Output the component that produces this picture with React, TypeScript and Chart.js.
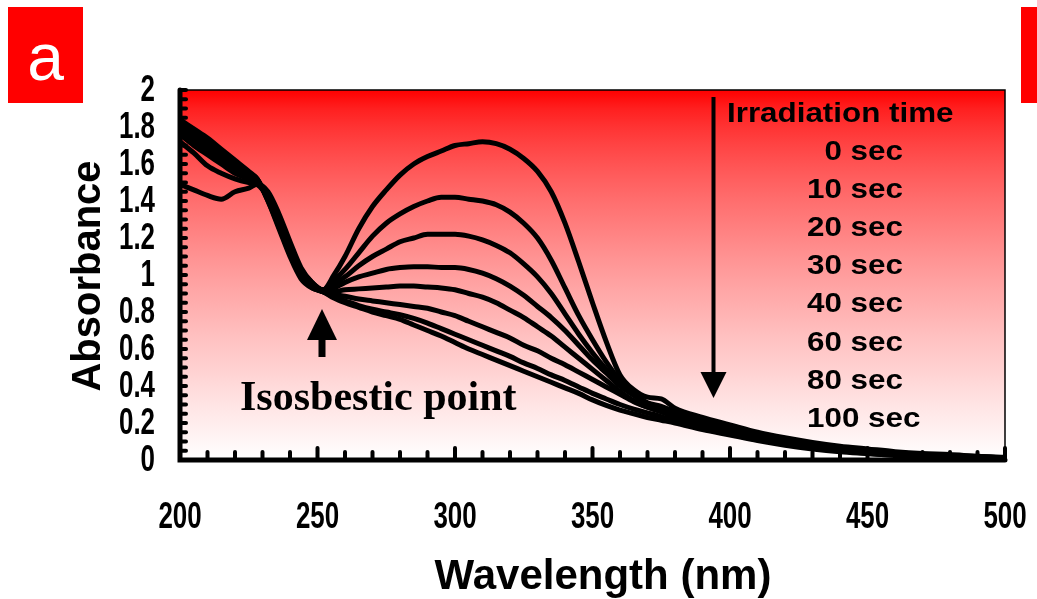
import React, { useEffect, useRef } from "react";
import { Chart, registerables } from "chart.js";

Chart.register(...registerables);

// ---------- data ----------
const wavelengths = [
  200, 205, 210, 215, 220, 225, 228, 232, 236, 240, 244, 248, 252,
  256, 260, 265, 270, 275, 280, 285, 290, 295, 300, 305, 310, 315, 320, 325, 330, 335, 340, 345, 350, 355, 360, 365, 370, 375, 380,
  390, 400, 410, 420, 430, 440, 450, 460, 470, 480, 490, 500,
];

const abs0s = [
  1.49, 1.46, 1.43, 1.41, 1.45, 1.47, 1.49, 1.45, 1.33, 1.18, 1.04, 0.96, 0.92,
  1.0, 1.1, 1.25, 1.37, 1.46, 1.54, 1.6, 1.64, 1.67, 1.7, 1.71, 1.72, 1.71, 1.68, 1.63, 1.56, 1.45, 1.28, 1.07, 0.85, 0.64, 0.46, 0.38, 0.34, 0.33, 0.28,
  0.23, 0.19, 0.15, 0.12, 0.095, 0.075, 0.06, 0.045, 0.035, 0.03, 0.02, 0.015,
];
const abs10s = [
  1.72, 1.66, 1.59, 1.55, 1.52, 1.5, 1.49, 1.42, 1.3, 1.15, 1.03, 0.96, 0.92,
  0.97, 1.03, 1.12, 1.21, 1.28, 1.33, 1.37, 1.4, 1.42, 1.42, 1.41, 1.4, 1.38, 1.34, 1.28, 1.2, 1.08, 0.93, 0.78, 0.65, 0.53, 0.43, 0.36, 0.31, 0.29, 0.26,
  0.21, 0.17, 0.135, 0.105, 0.085, 0.065, 0.05, 0.04, 0.03, 0.025, 0.02, 0.01,
];
const abs20s = [
  1.76, 1.7, 1.65, 1.6, 1.55, 1.52, 1.5, 1.42, 1.29, 1.14, 1.02, 0.95, 0.92,
  0.95, 0.99, 1.05, 1.1, 1.14, 1.18, 1.2, 1.22, 1.22, 1.22, 1.21, 1.19, 1.16, 1.12, 1.06, 0.99, 0.9, 0.79, 0.68, 0.58, 0.49, 0.41, 0.35, 0.3, 0.28, 0.25,
  0.2, 0.165, 0.13, 0.1, 0.08, 0.06, 0.05, 0.04, 0.03, 0.02, 0.015, 0.01,
];
const abs30s = [
  1.78, 1.72, 1.67, 1.62, 1.57, 1.53, 1.51, 1.42, 1.29, 1.14, 1.02, 0.95, 0.92,
  0.93, 0.96, 0.99, 1.01, 1.03, 1.04, 1.045, 1.045, 1.04, 1.04, 1.03, 1.01, 0.98, 0.94, 0.89, 0.83, 0.77, 0.7, 0.62, 0.54, 0.47, 0.4, 0.35, 0.3, 0.275, 0.24,
  0.195, 0.16, 0.125, 0.1, 0.075, 0.06, 0.045, 0.035, 0.025, 0.02, 0.015, 0.01,
];
const abs40s = [
  1.8, 1.74, 1.69, 1.64, 1.59, 1.54, 1.51, 1.41, 1.28, 1.13, 1.01, 0.94, 0.91,
  0.91, 0.92, 0.925, 0.93, 0.935, 0.94, 0.94, 0.935, 0.93, 0.92, 0.9, 0.88, 0.85, 0.81, 0.77, 0.72, 0.67, 0.61, 0.55, 0.49, 0.43, 0.37, 0.32, 0.285, 0.265, 0.235,
  0.19, 0.155, 0.12, 0.095, 0.07, 0.055, 0.04, 0.03, 0.025, 0.02, 0.015, 0.01,
];
const abs60s = [
  1.82, 1.76, 1.71, 1.66, 1.6, 1.55, 1.52, 1.41, 1.27, 1.12, 1.0, 0.94, 0.91,
  0.895, 0.885, 0.87, 0.86, 0.85, 0.84, 0.83, 0.82, 0.8, 0.78, 0.75, 0.72, 0.69, 0.66, 0.62, 0.59, 0.55, 0.515, 0.475, 0.435, 0.395, 0.355, 0.315, 0.285, 0.26, 0.23,
  0.18, 0.145, 0.115, 0.09, 0.065, 0.05, 0.04, 0.03, 0.02, 0.015, 0.01, 0.01,
];
const abs80s = [
  1.83, 1.78, 1.73, 1.67, 1.61, 1.55, 1.52, 1.4, 1.26, 1.11, 0.99, 0.93, 0.91,
  0.88, 0.86, 0.835, 0.815, 0.8, 0.785, 0.765, 0.74, 0.71, 0.68, 0.65, 0.62, 0.59, 0.56, 0.525, 0.495, 0.46, 0.43, 0.395, 0.36, 0.33, 0.3, 0.275, 0.255, 0.235, 0.21,
  0.17, 0.14, 0.11, 0.085, 0.065, 0.05, 0.035, 0.025, 0.02, 0.015, 0.01, 0.005,
];
const abs100s = [
  1.84, 1.79, 1.74, 1.68, 1.62, 1.56, 1.52, 1.4, 1.25, 1.1, 0.98, 0.93, 0.91,
  0.875, 0.85, 0.825, 0.8, 0.78, 0.76, 0.73, 0.7, 0.67, 0.635, 0.6, 0.57, 0.54, 0.51, 0.48, 0.45, 0.42, 0.39, 0.36, 0.325, 0.295, 0.27, 0.25, 0.23, 0.215, 0.2,
  0.165, 0.135, 0.105, 0.08, 0.06, 0.045, 0.035, 0.025, 0.015, 0.01, 0.01, 0.005,
];

const seriesLabels = ["0 sec", "10 sec", "20 sec", "30 sec", "40 sec", "60 sec", "80 sec", "100 sec"];
const seriesValues = [abs0s, abs10s, abs20s, abs30s, abs40s, abs60s, abs80s, abs100s];

const xTickValues = [200, 250, 300, 350, 400, 450, 500];
const xTickLabels = ["200", "250", "300", "350", "400", "450", "500"];
const yTickValues = [0, 0.2, 0.4, 0.6, 0.8, 1, 1.2, 1.4, 1.6, 1.8, 2];
const yTickLabels = ["0", "0.2", "0.4", "0.6", "0.8", "1", "1.2", "1.4", "1.6", "1.8", "2"];
const xMinorTicks = [200, 210, 220, 230, 240, 250, 260, 270, 280, 290, 300, 310, 320, 330, 340, 350, 360, 370, 380, 390, 400, 410, 420, 430, 440, 450, 460, 470, 480, 490, 500];
const yMinorTicks = [
  0, 0.05, 0.1, 0.15, 0.2, 0.25, 0.3, 0.35, 0.4, 0.45, 0.5, 0.55, 0.6, 0.65, 0.7, 0.75, 0.8, 0.85, 0.9, 0.95,
  1, 1.05, 1.1, 1.15, 1.2, 1.25, 1.3, 1.35, 1.4, 1.45, 1.5, 1.55, 1.6, 1.65, 1.7, 1.75, 1.8, 1.85, 1.9, 1.95, 2,
];

const xTitle = "Wavelength (nm)";
const yTitle = "Absorbance";
const legendTitle = "Irradiation time";
const isoLabel = "Isosbestic point";
const panelLabel = "a";

const SANS = "'Liberation Sans', Arial, sans-serif";
const SERIF = "'Liberation Serif', 'Times New Roman', serif";

function stretchedText(ctx: CanvasRenderingContext2D, text: string, x: number, y: number, sx: number) {
  ctx.save();
  ctx.translate(x, y);
  ctx.scale(sx, 1);
  ctx.fillText(text, 0, 0);
  ctx.restore();
}

export default function App() {
  const ref = useRef<HTMLCanvasElement>(null);

  useEffect(() => {
    const canvas = ref.current;
    if (!canvas) return;

    const decor = {
      id: "decor",
      beforeDraw(chart: any) {
        const { ctx, width, height, chartArea } = chart;
        const { left, right, top, bottom } = chartArea;
        ctx.save();
        ctx.fillStyle = "#ffffff";
        ctx.fillRect(0, 0, width, height);
        const g = ctx.createLinearGradient(0, top, 0, bottom);
        for (let i = 0; i <= 20; i++) {
          const f = i / 20;
          const c = Math.round(255 * Math.pow(f, 0.7));
          g.addColorStop(f, `rgb(255,${c},${c})`);
        }
        ctx.fillStyle = g;
        ctx.fillRect(left, top, right - left, bottom - top);
        // panel label box
        ctx.fillStyle = "#ff0000";
        ctx.fillRect(8, 7, 75, 96);
        ctx.fillRect(1021, 7, 16, 96);
        ctx.fillStyle = "#ffffff";
        ctx.font = `66px ${SANS}`;
        ctx.textAlign = "center";
        ctx.textBaseline = "alphabetic";
        ctx.fillText(panelLabel, 45.5, 80);
        ctx.restore();
      },
      afterDatasetsDraw(chart: any) {
        const { ctx, chartArea, scales } = chart;
        const { left, right, top, bottom } = chartArea;
        const xs = scales.x;
        const ys = scales.y;
        ctx.save();
        // thin frame top/right
        ctx.strokeStyle = "#000";
        ctx.lineWidth = 1.5;
        ctx.beginPath();
        ctx.moveTo(left, top);
        ctx.lineTo(right, top);
        ctx.lineTo(right, bottom);
        ctx.stroke();
        // ticks
        ctx.lineCap = "round";
        ctx.lineWidth = 4;
        for (const v of yMinorTicks) {
          const py = ys.getPixelForValue(v);
          ctx.beginPath();
          ctx.moveTo(left, py);
          ctx.lineTo(left + 6, py);
          ctx.stroke();
        }
        for (const v of xMinorTicks) {
          const px = xs.getPixelForValue(v);
          const len = v % 50 === 0 ? 12 : 8;
          ctx.beginPath();
          ctx.moveTo(px, bottom);
          ctx.lineTo(px, bottom - len);
          ctx.stroke();
        }
        // thick axes
        ctx.lineWidth = 5;
        ctx.beginPath();
        ctx.moveTo(left, top);
        ctx.lineTo(left, bottom);
        ctx.lineTo(right, bottom);
        ctx.stroke();

        // tick labels (condensed bold)
        ctx.fillStyle = "#000";
        ctx.font = `bold 36px ${SANS}`;
        const sx = 0.72;
        ctx.textBaseline = "alphabetic";
        yTickValues.forEach((v, i) => {
          const py = ys.getPixelForValue(v);
          const w = ctx.measureText(yTickLabels[i]).width * sx;
          stretchedText(ctx, yTickLabels[i], 155 - w, py + 11, sx);
        });
        xTickValues.forEach((v, i) => {
          const px = xs.getPixelForValue(v);
          const w = ctx.measureText(xTickLabels[i]).width * sx;
          stretchedText(ctx, xTickLabels[i], px - w / 2, 528, sx);
        });

        // arrows
        ctx.fillRect(711.5, 97, 4, 277);
        ctx.beginPath();
        ctx.moveTo(700.5, 372);
        ctx.lineTo(726.5, 372);
        ctx.lineTo(713.5, 398);
        ctx.closePath();
        ctx.fill();

        ctx.beginPath();
        ctx.moveTo(307, 340);
        ctx.lineTo(337, 340);
        ctx.lineTo(322, 309);
        ctx.closePath();
        ctx.fill();
        ctx.fillRect(318.5, 338, 7, 19);

        // legend text
        ctx.textAlign = "left";
        ctx.font = `bold 28px ${SANS}`;
        stretchedText(ctx, legendTitle, 727, 122, 1.12);
        const digitW = ctx.measureText("0").width * 1.12;
        seriesLabels.forEach((lab, i) => {
          const digits = lab.split(" ")[0].length;
          const x = 807 + Math.max(0, 2 - digits) * digitW;
          stretchedText(ctx, lab, x, 159.5 + i * 38.2, 1.12);
        });

        // isosbestic label
        ctx.font = `bold 42px ${SERIF}`;
        ctx.fillText(isoLabel, 240, 410);

        // axis titles
        ctx.font = `bold 42px ${SANS}`;
        ctx.textAlign = "center";
        ctx.fillText(xTitle, 603, 589);
        ctx.save();
        ctx.translate(100, 276);
        ctx.rotate(-Math.PI / 2);
        ctx.font = `bold 40px ${SANS}`;
        ctx.fillText(yTitle, 0, 0);
        ctx.restore();
        ctx.restore();
      },
    };

    const chart = new Chart(canvas, {
      type: "line",
      data: {
        datasets: seriesValues.map((vals, k) => ({
          label: seriesLabels[k],
          data: wavelengths.map((w, i) => ({ x: w, y: vals[i] })),
          borderColor: "#000000",
          backgroundColor: "#000000",
          borderWidth: 5,
          pointRadius: 0,
          fill: false,
          cubicInterpolationMode: "monotone" as const,
        })),
      },
      options: {
        responsive: false,
        animation: false,
        layout: { padding: { left: 0, top: 90, right: 32, bottom: 0 } },
        plugins: { legend: { display: false }, tooltip: { enabled: false } },
        scales: {
          x: {
            type: "linear",
            min: 200,
            max: 500,
            afterBuildTicks: (s: any) => {
              s.ticks = xTickValues.map((v) => ({ value: v }));
            },
            afterFit: (s: any) => {
              s.height = 139;
            },
            grid: { display: false, drawTicks: false },
            border: { display: false },
            ticks: { display: false },
          },
          y: {
            type: "linear",
            min: 0,
            max: 2,
            afterBuildTicks: (s: any) => {
              s.ticks = yTickValues.map((v) => ({ value: v }));
            },
            afterFit: (s: any) => {
              s.width = 180;
            },
            grid: { display: false, drawTicks: false },
            border: { display: false },
            ticks: { display: false },
          },
        },
      },
      plugins: [decor],
    });

    return () => chart.destroy();
  }, []);

  return (
    <div style={{ position: "fixed", left: 0, top: 0, width: 1037, height: 599, background: "#fff" }}>
      <canvas ref={ref} width={1037} height={599} style={{ display: "block", width: 1037, height: 599 }} />
    </div>
  );
}
